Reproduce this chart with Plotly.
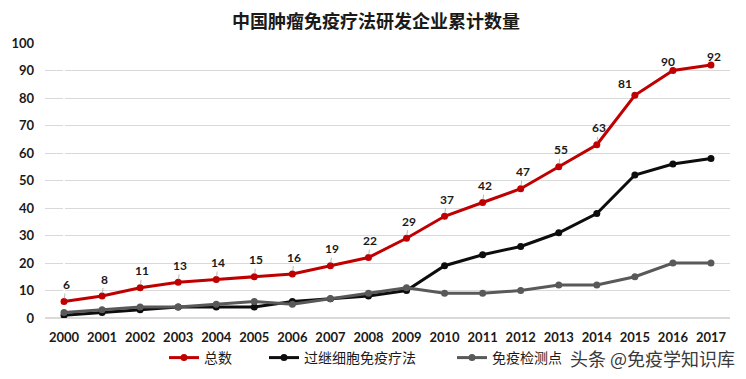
import plotly.graph_objects as go

years = [str(y) for y in range(2000, 2018)]
total = [6, 8, 11, 13, 14, 15, 16, 19, 22, 29, 37, 42, 47, 55, 63, 81, 90, 92]
adoptive = [1, 2, 3, 4, 4, 4, 6, 7, 8, 10, 19, 23, 26, 31, 38, 52, 56, 58]
checkpoint = [2, 3, 4, 4, 5, 6, 5, 7, 9, 11, 9, 9, 10, 12, 12, 15, 20, 20]
names = ["总数", "过继细胞免疫疗法", "免疫检测点"]
title = "中国肿瘤免疫疗法研发企业累计数量"
watermark = "头条 @免疫学知识库"

FONT = "Lato, Noto Sans CJK SC, sans-serif"
CJK = "Noto Sans CJK SC, sans-serif"

W, H = 746, 379
OFF = 8  # page body margin offset
# target on-screen plot box: x 45..730, y 43..318
ML, MT = 45 - OFF, 43 - OFF
MR = W - (730 - OFF)
MB = H - (318 - OFF)

fig = go.Figure()
legend_x = [172, 272, 460]
series = [(total, "#c00000"), (adoptive, "#0d0d0d"), (checkpoint, "#595959")]
for k, ((vals, color), name) in enumerate(zip(series, names)):
    lg = "legend" if k == 0 else "legend%d" % (k + 1)
    fig.add_trace(go.Scatter(
        x=list(range(len(years))), y=vals, name=name, mode="lines+markers",
        line=dict(color=color, width=3),
        marker=dict(color=color, size=7),
        legend=lg,
    ))

n = len(years)
for i, v in enumerate(total):
    if i == n - 3:
        ax, ay = -10, -12
    elif i == n - 2:
        ax, ay = -5, -9
    elif i == n - 1:
        ax, ay = 3, -9
    else:
        ax, ay = 2, -17
    fig.add_annotation(
        x=i, y=v, text="<b>%d</b>" % v, showarrow=True,
        ax=ax, ay=ay, arrowhead=0, arrowwidth=0.8, arrowcolor="#a6a6a6",
        standoff=3,
        font=dict(family=FONT, size=12, color="#1a1a1a"),
    )

pw = W - ML - MR
ph = H - MT - MB

fig.add_annotation(
    x=(737 - OFF - ML) / pw, y=-(358 - 318) / ph, xref="paper", yref="paper",
    xanchor="right", yanchor="middle",
    text=watermark, showarrow=False,
    font=dict(family=CJK, size=18, color="#3a3a3a"),
)

legend_common = dict(orientation="h", yanchor="middle", xanchor="left",
                     font=dict(family=CJK, size=14, color="#1a1a1a"),
                     bgcolor="rgba(0,0,0,0)", itemwidth=30)
legs = {}
for k, lx in enumerate(legend_x):
    key = "legend" if k == 0 else "legend%d" % (k + 1)
    legs[key] = dict(legend_common, x=(lx - OFF - 8 - ML) / pw,
                     y=-(358 - 318) / ph)

fig.update_layout(
    width=W, height=H,
    margin=dict(l=ML, r=MR, t=MT, b=MB, autoexpand=False),
    paper_bgcolor="white", plot_bgcolor="white",
    title=dict(text="<b>" + title + "</b>", x=(376 - OFF) / W, xanchor="center",
               y=1 - (22 - OFF) / H, yanchor="middle",
               font=dict(family=CJK, size=18, color="#1a1a1a")),
    showlegend=True,
    xaxis=dict(range=[-0.5, n - 0.5], showgrid=False, automargin=False,
               showline=False, ticks="", tickmode="array",
               tickvals=list(range(n)), ticktext=["<b>%s</b>" % y for y in years],
               ticklabelstandoff=10,
               tickfont=dict(family=FONT, size=13, color="#1a1a1a")),
    yaxis=dict(range=[0, 100], dtick=10, showgrid=True, gridcolor="#d9d9d9",
               gridwidth=1, zeroline=True, zerolinecolor="#d9d9d9",
               showline=False, ticks="", automargin=False,
               ticklabelstandoff=10,
               tickfont=dict(family=FONT, size=13, color="#1a1a1a"),
               tickprefix="<b>", ticksuffix="</b>"),
    **legs,
)

fig.write_html("out.html")
